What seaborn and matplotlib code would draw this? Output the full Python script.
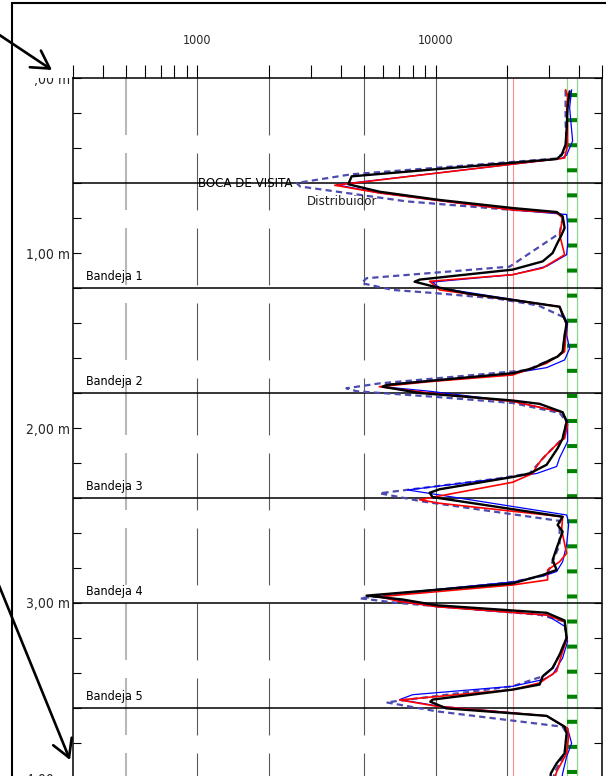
import numpy as np
import matplotlib
matplotlib.use('Agg')
import matplotlib.pyplot as plt
import seaborn as sns
from matplotlib.ticker import FixedLocator, FixedFormatter, LogLocator, NullFormatter, MultipleLocator
from matplotlib.patches import Rectangle
from matplotlib.transforms import Bbox, TransformedBbox

sns.set_theme(style="white")
plt.rcParams['font.family'] = ['Liberation Sans Narrow', 'DejaVu Sans']
plt.rcParams['font.stretch'] = 'condensed'
plt.rcParams['lines.scale_dashes'] = False

# depth (m) and value for each profile
black_depth = [0.076, 0.17, 0.29, 0.38, 0.44, 0.463, 0.562, 0.607, 0.65, 0.697, 0.743, 0.766, 0.79, 0.857,
               0.895, 0.952, 1.0, 1.048, 1.095, 1.152, 1.164, 1.19, 1.23, 1.307, 1.354, 1.402, 1.469, 1.564,
               1.592, 1.659, 1.687, 1.754, 1.764, 1.80, 1.843, 1.862, 1.91, 1.964, 2.06, 2.116, 2.21, 2.26,
               2.28, 2.35, 2.37, 2.395, 2.507, 2.554, 2.592, 2.687, 2.754, 2.811, 2.84, 2.888, 2.958, 2.98,
               3.013, 3.056, 3.10, 3.20, 3.295, 3.371, 3.419, 3.466, 3.495, 3.552, 3.564, 3.602, 3.645,
               3.707, 3.745, 3.859, 3.916, 3.973, 4.05]
black_val = [36560, 35850, 35510, 35160, 33840, 32240, 4440, 4300, 5820, 10400, 21060, 32240, 34170, 34830,
             33840, 32240, 31020, 28160, 21060, 8570, 8160, 9710, 13500, 33190, 34170, 35510, 34830, 34170,
             32550, 25560, 21060, 6220, 5990, 8570, 21060, 27350, 34170, 35510, 34170, 32550, 29270, 24830,
             21060, 10400, 9440, 9710, 34170, 32550, 34170, 32240, 31020, 32240, 28160, 21060, 5130, 7260,
             10100, 29270, 34830, 35510, 33190, 31020, 28160, 27350, 21060, 9710, 9500, 11100, 29270,
             34830, 35510, 34830, 32240, 30500, 30000]

red_depth = [0.067, 0.11, 0.17, 0.27, 0.38, 0.457, 0.613, 0.657, 0.754, 0.77, 0.80, 0.895, 1.01, 1.086,
             1.124, 1.162, 1.17, 1.211, 1.307, 1.335, 1.41, 1.564, 1.63, 1.697, 1.735, 1.764, 1.80, 1.848,
             1.91, 1.98, 2.06, 2.077, 2.18, 2.22, 2.26, 2.31, 2.41, 2.43, 2.507, 2.582, 2.716, 2.764, 2.811,
             2.868, 2.897, 2.964, 2.99, 3.021, 3.069, 3.106, 3.21, 3.295, 3.39, 3.457, 3.495, 3.554, 3.59,
             3.645, 3.716, 3.764, 3.859, 3.964, 4.05]
red_val = [35160, 35850, 35510, 35850, 35850, 34830, 3770, 5820, 21060, 32240, 34170, 33190, 34830, 28160,
           21060, 9440, 9600, 10400, 33190, 33840, 35510, 34830, 29270, 21060, 9440, 5800, 9440, 21060,
           34170, 35850, 34830, 33190, 27880, 26570, 25560, 21060, 8570, 10400, 34170, 33840, 35510, 33190,
           29550, 29550, 21060, 5820, 7000, 10100, 29270, 34830, 35510, 33840, 32240, 27350, 21060, 7060,
           10100, 29270, 35850, 36200, 35510, 32240, 31000]

blue_depth = [0.067, 0.17, 0.36, 0.44, 0.46, 0.61, 0.657, 0.754, 0.78, 0.838, 0.952, 1.01, 1.076, 1.124,
              1.166, 1.2, 1.307, 1.40, 1.469, 1.545, 1.611, 1.655, 1.687, 1.75, 1.764, 1.79, 1.848, 1.91,
              1.964, 2.077, 2.17, 2.22, 2.26, 2.28, 2.354, 2.38, 2.497, 2.516, 2.554, 2.668, 2.764, 2.82,
              2.84, 2.88, 2.954, 2.962, 3.021, 3.069, 3.133, 3.219, 3.314, 3.409, 3.438, 3.476, 3.524,
              3.552, 3.59, 3.645, 3.716, 3.802, 3.878, 3.973, 4.05]
blue_val = [37270, 36560, 37630, 35510, 33840, 3840, 5820, 21060, 35510, 35850, 35850, 35510, 29270, 21060,
            9710, 10400, 33190, 35850, 35510, 36560, 34830, 29270, 21060, 6410, 5990, 9440, 21060, 34170,
            35850, 35850, 33190, 32240, 26570, 21060, 7620, 10100, 35510, 35850, 36200, 35510, 34170, 32240,
            29270, 21060, 5820, 5500, 10100, 29270, 34830, 35850, 34170, 31020, 28160, 21060, 8010,
            7060, 10400, 29270, 35850, 37270, 35510, 34170, 33500]

dist_depth = [0.07, 0.25, 0.41, 0.46, 0.55, 0.60, 0.62, 0.705, 0.754, 0.766, 0.80, 0.887, 1.078, 1.144,
              1.172, 1.211, 1.23, 1.26, 1.30, 1.364, 1.402, 1.564, 1.592, 1.67, 1.745, 1.773, 1.79, 1.821,
              1.857, 1.914, 1.964, 2.06, 2.15, 2.26, 2.29, 2.373, 2.42, 2.531, 2.668, 2.764, 2.84, 2.88,
              2.973, 2.999, 3.067, 3.106, 3.20, 3.295, 3.371, 3.419, 3.476, 3.568, 3.619, 3.707, 3.745,
              3.859, 3.973, 4.05]
dist_val = [35160, 35160, 35510, 32240, 4440, 2610, 2700, 7550, 21060, 32240, 34170, 33190, 20460, 5130,
            4890, 6600, 10100, 18000, 27000, 34170, 35510, 34170, 32550, 24110, 5820, 4220, 4660, 9710,
            21060, 33190, 35510, 34170, 29270, 24830, 18040, 5820, 8820, 33190, 33190, 31000, 29270, 21060,
            4800, 6860, 27350, 34830, 35510, 33190, 31020, 28160, 21060, 6220, 10100, 34170, 35510,
            34830, 31500, 31000]

tray_bounds = [0.6, 1.2, 1.8, 2.4, 3.0, 3.6]
tray_names = ['Bandeja 1', 'Bandeja 2', 'Bandeja 3', 'Bandeja 4', 'Bandeja 5']
x_major = [1000, 10000]
x_labels = ['1000', '10000']
y_major = [0, 1, 2, 3, 4]
y_labels = [',00 m', '1,00 m', '2,00 m', '3,00 m', '4,00 m']
grid_dashed = [500, 1000, 2000, 5000]
grid_solid = [10000, 20000]
red_ref = 21060
green_band = [35500, 39100]
green_ref = 37270

W, H = 606, 776
fig = plt.figure(figsize=(W / 100, H / 100), dpi=100)
ax_left, ax_top, ax_right = 73, 78, 602
ymax = 4.1
ax_h = ymax * 175
ax = fig.add_axes([ax_left / W, 1 - (ax_top + ax_h) / H, (ax_right - ax_left) / W, ax_h / H])
ax.set_xscale('log')

# reference lines
for gx in grid_dashed:
    c, lw = ('#b8b8b8', 1.5) if gx == 500 else ('#5a5a5a', 0.8)
    ax.vlines(gx, 0, ymax, colors=c, linewidths=lw, linestyles=[(0, (41, 13))], zorder=1)
for gx in grid_solid:
    ax.vlines(gx, 0, ymax, colors='#5a5a5a', linewidths=0.8, zorder=1)
ax.vlines(red_ref, 0, ymax, colors='#ff8c8c', linewidths=0.8, zorder=1)
ax.vlines(green_band, 0, ymax, colors='#8fd48f', linewidths=0.9, zorder=1)
ax.vlines(green_ref, 0, ymax, colors='#008000', linewidths=7.2,
          linestyles=[(7.2, (2.9, 15.15))], zorder=1)
for b in tray_bounds:
    ax.axhline(b, color='black', lw=1.1, zorder=1.5)

series = [
    (dist_depth, dist_val, '#4b4bb0', 1.6, (4.5, 3.0)),
    (blue_depth, blue_val, '#0000ff', 0.9, None),
    (red_depth, red_val, '#ff0000', 1.2, None),
    (black_depth, black_val, '#000000', 1.7, None),
]
for d, v, c, lw, dash in series:
    sns.lineplot(x=v, y=d, sort=False, estimator=None, color=c, linewidth=lw, ax=ax, zorder=3)
    if dash:
        ax.lines[-1].set_dashes(dash)

ax.set_xlim(300, 50000)
ax.set_ylim(ymax, 0)
ax.set_xlabel('')
ax.set_ylabel('')
ax.grid(False)
for s in ax.spines.values():
    s.set_color('black')
    s.set_linewidth(1.1)

ax.xaxis.tick_top()
ax.xaxis.set_major_locator(FixedLocator(x_major))
ax.xaxis.set_major_formatter(FixedFormatter(x_labels))
ax.xaxis.set_minor_locator(LogLocator(base=10, subs=np.arange(2, 10), numticks=30))
ax.xaxis.set_minor_formatter(NullFormatter())
ax.tick_params(axis='x', which='both', direction='out', length=9.4, width=0.8, color='black',
               pad=13, labelsize=9, top=True, bottom=False, labeltop=True, labelbottom=False)

ax.yaxis.set_major_locator(FixedLocator(y_major))
ax.yaxis.set_major_formatter(FixedFormatter(y_labels))
ax.yaxis.set_minor_locator(MultipleLocator(0.2))
ax.tick_params(axis='y', which='both', direction='in', length=6, width=0.8, color='black',
               left=True, right=True, labelleft=True, labelright=False, pad=2, labelsize=10)

# the top label is cut at the axes top edge
tick0 = ax.yaxis.get_major_ticks()[0]
tick0.label1.set_clip_box(TransformedBbox(Bbox.from_extents(0, 0, 1, 1 - ax_top / H), fig.transFigure))
tick0.label1.set_clip_on(True)

for b, name in zip(tray_bounds[1:], tray_names):
    ax.text(0.0255, b - 0.046, name, transform=ax.get_yaxis_transform(), ha='left',
            va='baseline', fontsize=9, color='black')
ax.text(2500, 0.6, 'BOCA DE VISITA', ha='right', va='center', fontsize=9.5, color='black')
ax.text(2870, 0.706, 'Distribuidor', ha='left', va='center', fontsize=9.5, color='#222222')

# frame and arrows
fig.add_artist(Rectangle((12 / W, -0.1), 1.2, 1.1 - 3 / H, transform=fig.transFigure,
                         fill=False, lw=1.5, ec='black'))
arrow = dict(arrowstyle='->,head_length=1.25,head_width=0.72', lw=1.9, color='black',
             mutation_scale=10, shrinkA=0, shrinkB=0)
ax.annotate('', xy=(52, H - 70), xycoords='figure pixels', xytext=(-2, H - 34),
            textcoords='figure pixels', arrowprops=arrow, annotation_clip=False)
ax.annotate('', xy=(70, H - 760), xycoords='figure pixels', xytext=(-2, H - 583),
            textcoords='figure pixels', arrowprops=arrow, annotation_clip=False)

fig.savefig('out.png', dpi=100)
